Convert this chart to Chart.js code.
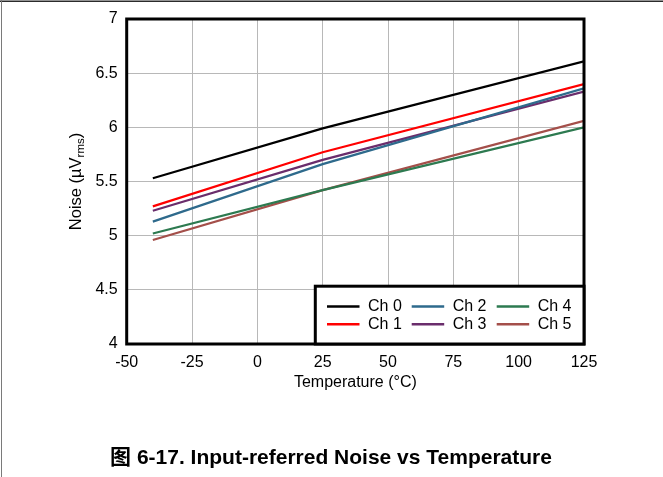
<!DOCTYPE html>
<html>
<head>
<meta charset="utf-8">
<script src="https://cdn.jsdelivr.net/npm/chart.js@4.4.1/dist/chart.umd.min.js"></script>
<style>
  html, body { margin: 0; padding: 0; background: #fff; }
  #noiseChart { display: block; }
</style>
</head>
<body>
<canvas id="noiseChart" width="663" height="477"></canvas>
<script>
// Temperatures (deg C) where the curves are sampled
const temps = [-40, 25, 125];

// Input-referred noise (uVrms) per channel
const ch0 = [5.53, 5.99, 6.61];
const ch1 = [5.27, 5.77, 6.40];
const ch2 = [5.13, 5.66, 6.36];
const ch3 = [5.23, 5.70, 6.33];
const ch4 = [5.02, 5.42, 6.00];
const ch5 = [4.96, 5.42, 6.06];

const seriesNames = ["Ch 0", "Ch 1", "Ch 2", "Ch 3", "Ch 4", "Ch 5"];
const seriesColors = ["#000000", "#ff0000", "#2e6a8c", "#6a2d6c", "#2d7a50", "#a44f4a"];

const xTicks = [-50, -25, 0, 25, 50, 75, 100, 125];
const yTicks = [4, 4.5, 5, 5.5, 6, 6.5, 7];

const fontFamily = '"Liberation Sans", Arial, sans-serif';
const ctx = document.getElementById("noiseChart").getContext("2d");

const allSeries = [ch0, ch1, ch2, ch3, ch4, ch5];
const datasets = allSeries.map((vals, i) => ({
  label: seriesNames[i],
  data: temps.map((t, j) => ({ x: t, y: vals[j] })),
  borderColor: seriesColors[i],
  borderWidth: 2.2,
  pointRadius: 0,
  tension: 0,
  fill: false,
}));

// Draws the page frame, plot box, legend box, axis titles and caption
const decorPlugin = {
  id: "decor",
  beforeDraw(chart) {
    const c = chart.ctx;
    c.save();
    c.fillStyle = "#fff";
    c.fillRect(0, 0, chart.width, chart.height);
    // page frame lines (top + left)
    c.strokeStyle = "#2b2b2b";
    c.lineWidth = 1.5;
    c.beginPath();
    c.moveTo(0, 1.2);
    c.lineTo(chart.width, 1.2);
    c.stroke();
    c.strokeStyle = "#7a7a7a";
    c.lineWidth = 1;
    c.beginPath();
    c.moveTo(1.5, 0);
    c.lineTo(1.5, chart.height);
    c.stroke();
    c.restore();
  },
  afterDraw(chart) {
    const c = chart.ctx;
    const a = chart.chartArea;
    c.save();

    // plot border
    c.strokeStyle = "#000";
    c.lineWidth = 3;
    c.strokeRect(a.left, a.top, a.right - a.left, a.bottom - a.top);

    // legend box
    const lx = 315.3, ly = 286.2;
    c.fillStyle = "#fff";
    c.fillRect(lx, ly, a.right - lx, a.bottom - ly);
    c.strokeRect(lx, ly, a.right - lx, a.bottom - ly);

    const colX = [327, 411.7, 496.7];
    const rowY = [306.5, 324.2];
    c.font = "16px " + fontFamily;
    c.textBaseline = "middle";
    c.textAlign = "left";
    chart.data.datasets.forEach((ds, i) => {
      const col = Math.floor(i / 2), row = i % 2;
      const x = colX[col], y = rowY[row];
      c.strokeStyle = ds.borderColor;
      c.lineWidth = 2.5;
      c.beginPath();
      c.moveTo(x, y);
      c.lineTo(x + 32.5, y);
      c.stroke();
      c.fillStyle = "#000";
      c.fillText(ds.label, x + 41, y);
    });

    // x-axis title
    c.fillStyle = "#000";
    c.textAlign = "center";
    c.textBaseline = "middle";
    c.font = "16px " + fontFamily;
    c.fillText("Temperature (\u00b0C)", (a.left + a.right) / 2, 382.5);

    // y-axis title with subscript
    c.save();
    c.translate(76.5, (a.top + a.bottom) / 2);
    c.rotate(-Math.PI / 2);
    const mainFont = "16.5px " + fontFamily;
    const subFont = "11.5px " + fontFamily;
    const parts = [
      { t: "Noise (\u00b5V", f: mainFont, dy: 0 },
      { t: "rms", f: subFont, dy: 4 },
      { t: ")", f: mainFont, dy: 0 },
    ];
    let total = 0;
    parts.forEach((p) => { c.font = p.f; p.w = c.measureText(p.t).width; total += p.w; });
    let px = -total / 2;
    c.textAlign = "left";
    parts.forEach((p) => {
      c.font = p.f;
      c.fillText(p.t, px, p.dy);
      px += p.w;
    });
    c.restore();

    // figure caption
    c.font = "bold 21px " + fontFamily + ', "Noto Sans CJK SC"';
    c.textAlign = "center";
    c.fillText("\u56fe 6-17. Input-referred Noise vs Temperature", 331, 458.5);

    c.restore();
  },
};

new Chart(ctx, {
  type: "line",
  data: { datasets: datasets },
  options: {
    responsive: false,
    animation: false,
    layout: { padding: { left: 0, top: 19, right: 79, bottom: 0 } },
    plugins: {
      legend: { display: false },
      tooltip: { enabled: false },
    },
    scales: {
      x: {
        type: "linear",
        min: -50,
        max: 125,
        afterFit: (scale) => { scale.height = 133; },
        afterBuildTicks: (scale) => { scale.ticks = xTicks.map((v) => ({ value: v })); },
        grid: { color: "#b8b8b8", lineWidth: 1, drawTicks: false },
        border: { display: false },
        ticks: {
          color: "#000",
          padding: 9,
          maxRotation: 0,
          font: { family: fontFamily, size: 16 },
          callback: (v) => String(v),
        },
      },
      y: {
        type: "linear",
        min: 4,
        max: 7,
        afterFit: (scale) => { scale.width = 126.7; },
        afterBuildTicks: (scale) => { scale.ticks = yTicks.map((v) => ({ value: v })); },
        grid: { color: "#b8b8b8", lineWidth: 1, drawTicks: false },
        border: { display: false },
        ticks: {
          color: "#000",
          padding: 9,
          font: { family: fontFamily, size: 16 },
          callback: (v) => String(v),
        },
      },
    },
  },
  plugins: [decorPlugin],
});
</script>
</body>
</html>
